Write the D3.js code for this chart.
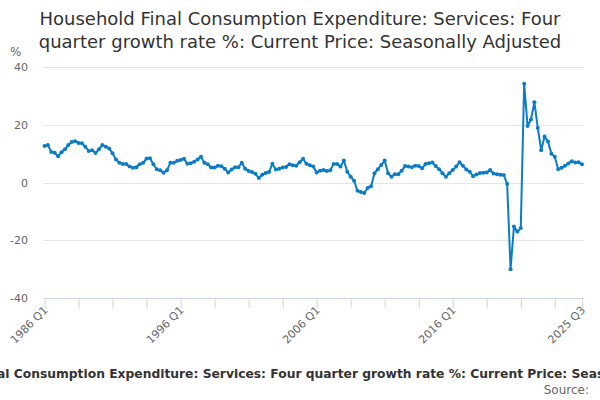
<!DOCTYPE html>
<html><head><meta charset="utf-8">
<script src="https://cdn.jsdelivr.net/npm/d3@7/dist/d3.min.js"></script>
<style>body{margin:0;background:#fff;font-family:"DejaVu Sans",sans-serif;}svg{display:block}</style>
</head><body>
<svg id="c" width="600" height="400"></svg>
<script>
const titleLines = ["Household Final Consumption Expenditure: Services: Four", "quarter growth rate %: Current Price: Seasonally Adjusted"];
const subtitle = "Household Final Consumption Expenditure: Services: Four quarter growth rate %: Current Price: Seasonally Adjusted";
const sourceText = "Source:";
const yUnit = "%";
const startYear = 1986;
const yTicks = [-40, -20, 0, 20, 40];
const xLabelQuarters = ["1986 Q1", "1996 Q1", "2006 Q1", "2016 Q1", "2025 Q3"];
const values = [
 12.6,13.0,10.6,10.3,9.1,10.5,11.5,13.0,14.0,14.3,
 13.7,13.6,12.4,10.9,11.2,10.2,11.5,13.0,12.4,11.8,
 10.1,8.0,6.8,6.4,6.4,5.5,5.1,5.3,6.3,6.8,
 8.3,8.4,6.3,4.6,4.2,3.4,4.2,6.8,6.8,7.5,
 7.8,8.2,6.5,6.7,7.2,8.0,8.9,6.8,6.3,5.2,
 5.2,5.8,5.6,4.8,3.5,4.5,5.3,5.3,6.8,4.8,
 4.0,3.6,3.0,1.6,2.7,3.3,3.6,6.5,4.5,4.8,
 5.2,5.4,6.3,6.0,5.8,7.0,8.2,6.5,6.0,5.5,
 3.5,4.1,4.3,4.0,4.2,6.4,6.4,5.5,7.6,3.7,
 2.0,0.6,-2.9,-3.3,-3.6,-1.9,-1.3,3.2,4.6,6.1,
 7.6,3.2,2.0,2.9,2.9,4.1,5.7,5.5,5.3,5.8,
 5.7,4.9,6.4,6.7,6.9,5.7,4.6,3.2,2.0,3.2,
 4.3,5.5,7.0,5.8,4.5,3.7,2.2,2.8,3.3,3.4,
 3.5,4.3,3.1,2.9,2.7,2.6,-0.5,-30.0,-15.2,-17.0,
 -15.8,34.2,19.6,21.8,27.8,18.9,11.2,15.9,14.2,10.0,
 8.9,4.6,5.1,5.8,6.6,7.4,6.9,7.0,6.3
];
const quarters = values.map((v,i)=> `${startYear + Math.floor(i/4)} Q${i%4+1}`);

const svg = d3.select("#c");
const pLeft = 43, pRight = 584, pTop = 67, pBottom = 298;
const x = d3.scalePoint().domain(quarters).range([44.5, 582]);
const y = d3.scaleLinear().domain([-40, 40]).range([pBottom, pTop]);

// gridlines
svg.append("g").selectAll("line").data(yTicks.filter(t=>t!==-40)).join("line")
  .attr("x1", pLeft).attr("x2", pRight)
  .attr("y1", d=>Math.round(y(d))+0.5).attr("y2", d=>Math.round(y(d))+0.5)
  .attr("stroke", "#e6e6e6").attr("stroke-width", 1);

// y labels
svg.append("g").selectAll("text").data(yTicks).join("text")
  .attr("x", 28).attr("y", d=>y(d)+4)
  .attr("text-anchor", "end").attr("font-size", 11).attr("fill", "#666")
  .text(d=>d);
svg.append("text").attr("x", 10).attr("y", 56).attr("font-size", 12).attr("fill", "#666").text(yUnit);

// x axis
const tickQ = quarters.filter((q,i)=> i%10===0 || i===quarters.length-1);
const xAxis = d3.axisBottom(x).tickValues(tickQ).tickSize(10).tickFormat(d=> xLabelQuarters.includes(d) ? d : "");
const gx = svg.append("g").attr("transform", `translate(0,${pBottom+0.5})`).call(xAxis);
gx.select(".domain").attr("stroke", "#ccd6eb").attr("d", `M${pLeft},0H${pRight}`);
gx.selectAll(".tick line").attr("stroke", "#ccd6eb");
gx.selectAll(".tick text").attr("font-family", "DejaVu Sans, sans-serif").attr("font-size", 11).attr("fill", "#666")
  .attr("text-anchor", "end").attr("transform", "translate(1,10) rotate(-45)").attr("dy", "0.3em").attr("y", 0).attr("x", 0);

// line
const line = d3.line().x((d,i)=>x(quarters[i])).y(d=>y(d));
svg.append("path").datum(values).attr("d", line).attr("fill", "none")
  .attr("stroke", "#0b7cc6").attr("stroke-width", 2).attr("stroke-linejoin", "round");
svg.append("g").selectAll("circle").data(values).join("circle")
  .attr("cx", (d,i)=>x(quarters[i])).attr("cy", d=>y(d)).attr("r", 2).attr("fill", "#0b7cc6");

// title
svg.append("g").selectAll("text").data(titleLines).join("text")
  .attr("x", 300).attr("y", (d,i)=>25 + i*23).attr("text-anchor", "middle")
  .attr("font-size", 18).attr("fill", "#333").text(d=>d);

// caption (overflows the frame as in the reference)
svg.append("text").attr("x", 305).attr("y", 378).attr("text-anchor", "middle")
  .attr("font-size", 12.3).attr("font-weight", "bold").attr("fill", "#333").text(subtitle);
svg.append("text").attr("x", 589).attr("y", 394).attr("text-anchor", "end")
  .attr("font-size", 12).attr("fill", "#666").text(sourceText);
</script>
</body></html>
